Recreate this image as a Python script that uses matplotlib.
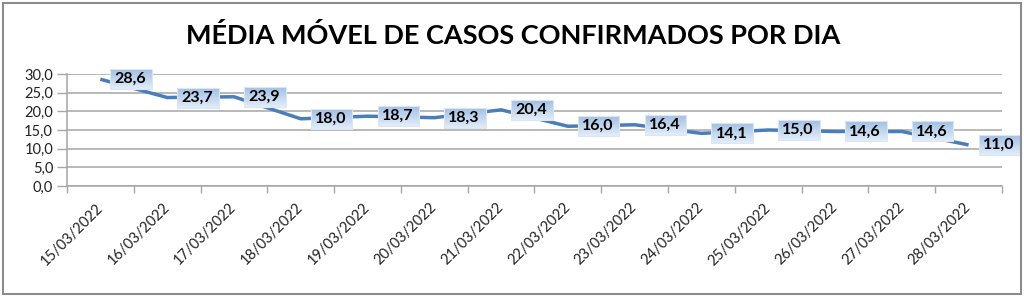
import numpy as np
import matplotlib
matplotlib.use('Agg')
import matplotlib.pyplot as plt
import matplotlib.transforms as mtransforms
from matplotlib.patches import Rectangle

# Dados
datas = ['15/03/2022', '16/03/2022', '17/03/2022', '18/03/2022', '19/03/2022',
         '20/03/2022', '21/03/2022', '22/03/2022', '23/03/2022', '24/03/2022',
         '25/03/2022', '26/03/2022', '27/03/2022', '28/03/2022']
media_movel = [28.6, 23.7, 23.9, 18.0, 18.7, 18.3, 20.4, 16.0, 16.4, 14.1,
               15.0, 14.6, 14.6, 11.0]
titulo = 'MÉDIA MÓVEL DE CASOS CONFIRMADOS POR DIA'

plt.rcParams['font.family'] = ['Lato', 'DejaVu Sans']

W, H = 1024, 296
fig = plt.figure(figsize=(W / 100, H / 100), dpi=100)
fig.patch.set_facecolor('white')

# Moldura do gráfico
fig.patches.append(Rectangle((2.5 / W, 2.5 / H), 1018 / W, 291 / H,
                             transform=fig.transFigure, fill=False,
                             edgecolor='#8c8c8c', linewidth=1.5))

fig.text(513 / W, 1 - 35 / H, titulo, ha='center', va='center',
         fontsize=19.5, fontweight='bold', color='black')

ax = fig.add_axes([67 / W, 1 - 186 / H, (1002 - 67) / W, (186 - 74) / H])
x = np.arange(len(datas))
ax.plot(x, media_movel, color='#4a7ebb', linewidth=2.5,
        solid_joinstyle='round', solid_capstyle='butt', zorder=2)

ax.set_xlim(-0.5, len(datas) - 0.5)
ax.set_ylim(0, 30)
ax.autoscale(False)
ax.set_yticks(np.arange(0, 31, 5))
ax.set_yticklabels([f'{v:.1f}'.replace('.', ',') for v in np.arange(0, 31, 5)],
                   fontsize=10.5, color='#222222')
ax.yaxis.grid(True, color='#a6a6a6', linewidth=1.1)
ax.set_axisbelow(True)

ax.set_xticks(x)
ax.set_xticklabels(datas, rotation=45, ha='right', va='center',
                   rotation_mode='anchor', fontsize=10.5, color='#222222')
desloc = mtransforms.ScaledTranslation(-5 / 100, 0, fig.dpi_scale_trans)
for lbl in ax.get_xticklabels():
    lbl.set_transform(lbl.get_transform() + desloc)
ax.set_xticks(np.arange(-0.5, len(datas)), minor=True)
ax.tick_params(axis='x', which='major', length=0, pad=14)
ax.tick_params(axis='x', which='minor', length=5, color='#a6a6a6', width=1)
ax.tick_params(axis='y', length=7, color='#a6a6a6', width=1, pad=3)

for s in ['top', 'right']:
    ax.spines[s].set_visible(False)
for s in ['left', 'bottom']:
    ax.spines[s].set_color('#a6a6a6')
    ax.spines[s].set_linewidth(1.1)

# Rótulos de dados
rotulos = []
for xi, v in zip(x, media_movel):
    t = ax.annotate(f'{v:.1f}'.replace('.', ','), (xi, v), xytext=(14, 0),
                    textcoords='offset pixels', ha='left', va='center',
                    fontsize=11.5, fontweight='bold', color='black', zorder=5,
                    annotation_clip=False)
    rotulos.append(t)

# Caixas com gradiente atrás dos rótulos
fig.canvas.draw()
renderer = fig.canvas.get_renderer()
grad = np.linspace(0, 1, 64).reshape(-1, 1)
top = np.array([0.63, 0.75, 0.89])
bot = np.array([0.89, 0.93, 0.98])
img = top[None, None, :] * (1 - grad[:, :, None]) + bot[None, None, :] * grad[:, :, None]
caixas = []
for t in rotulos:
    ext = t.get_window_extent(renderer)
    caixas.append(ax.transData.inverted().transform(
        [(ext.x0 - 4, ext.y0 - 3), (ext.x1 + 6, ext.y1 + 3)]))
for (x0, y0), (x1, y1) in caixas:
    im = ax.imshow(img, extent=(x0, x1, y0, y1), aspect='auto', zorder=4,
                   interpolation='bilinear', origin='upper')
    im.set_clip_on(False)
    ax.add_patch(Rectangle((x0, y0), x1 - x0, y1 - y0, fill=False,
                           edgecolor='#dce6f2', linewidth=0.8, zorder=4.5,
                           clip_on=False))

ax.set_xlim(-0.5, len(datas) - 0.5)
ax.set_ylim(0, 30)

fig.savefig('out.png', dpi=100)
